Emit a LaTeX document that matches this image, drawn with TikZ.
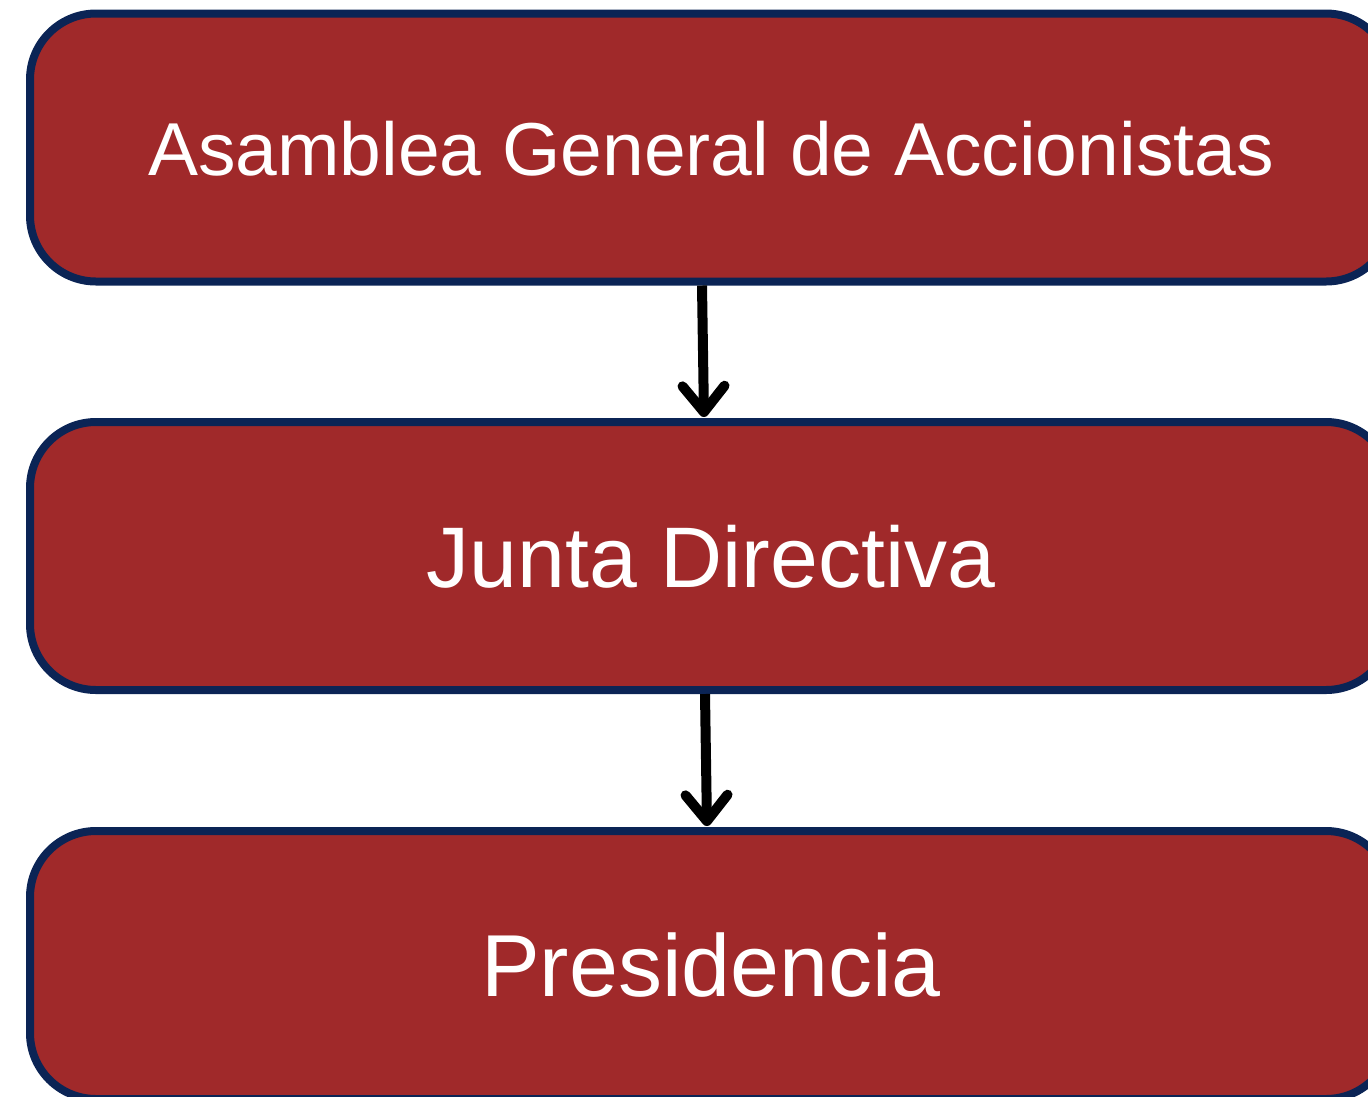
\documentclass[tikz,border=0pt]{standalone}
\usepackage{fontspec}
\setmainfont{Liberation Sans}
\usetikzlibrary{arrows.meta,calc}
\definecolor{boxred}{HTML}{A0292A}
\definecolor{boxnavy}{HTML}{0B2455}
\tikzset{
  orgbox/.style={draw=boxnavy, line width=8pt, fill=boxred, rounded corners=66pt,
    minimum width=1362pt, minimum height=268pt, inner sep=0pt, text=white,
    text depth=0pt},
  linkarrow/.style={line width=10pt, -{Straight Barb[length=26pt,width=42pt,line cap=round,line join=round]}}
}
\begin{document}
\begin{tikzpicture}[x=1pt,y=-1pt]
\useasboundingbox (0,0) rectangle (1368,1096);
\clip (0,0) rectangle (1368,1096);
\node[orgbox, text height=55pt, font=\fontsize{75pt}{90pt}\selectfont] (asamblea) at (711,147.5) {Asamblea General de Accionistas};
\node[orgbox, text height=62pt, font=\fontsize{86pt}{104pt}\selectfont] (junta) at (711,556) {Junta Directiva};
\node[orgbox, text height=63pt, font=\fontsize{88pt}{104pt}\selectfont] (presidencia) at (711,965) {Presidencia};
\draw[linkarrow] ($(asamblea.south)+(-9,0)$) -- ($(junta.north)+(-7,-1)$);
\draw[linkarrow] ($(junta.south)+(-6,0)$) -- ($(presidencia.north)+(-4,-1)$);
\end{tikzpicture}
\end{document}
